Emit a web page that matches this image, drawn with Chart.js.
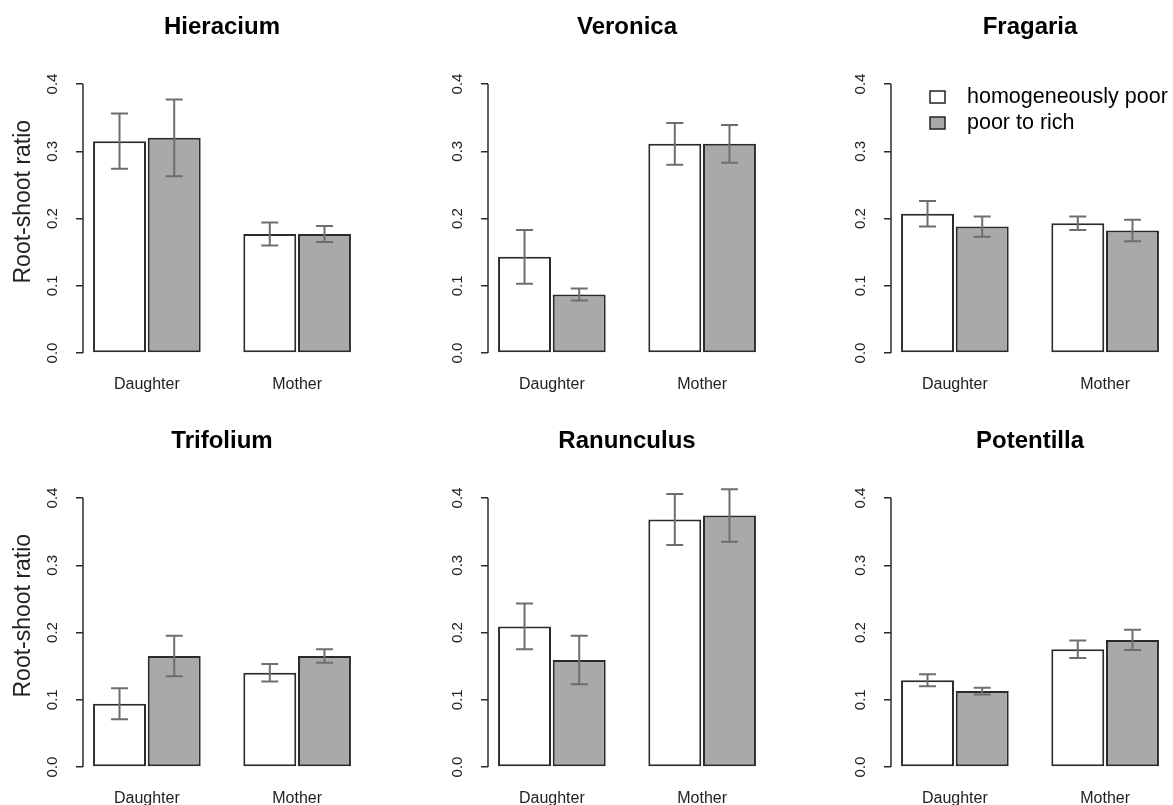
<!DOCTYPE html>
<html>
<head>
<meta charset="utf-8">
<script src="https://cdn.jsdelivr.net/npm/chart.js@4.4.0/dist/chart.umd.min.js"></script>
<style>
  html, body { margin: 0; padding: 0; background: #fff; overflow: hidden; }
  #wrap { position: relative; width: 1173px; height: 805px; overflow: hidden; }
  .panel { position: absolute; width: 444px; height: 393px; }
</style>
</head>
<body>
<div id="wrap"></div>
<script>
// data (root-shoot ratio, mean and standard error)
const species = ['Hieracium', 'Veronica', 'Fragaria', 'Trifolium', 'Ranunculus', 'Potentilla'];
const categories = ['Daughter', 'Mother'];
const treatments = ['homogeneously poor', 'poor to rich'];
const yTicks = [0, 0.1, 0.2, 0.3, 0.4];

// one [Daughter, Mother] pair per species
const meanPoor = [[0.315, 0.177], [0.143, 0.311], [0.207, 0.193], [0.094, 0.140], [0.209, 0.368], [0.129, 0.175]];
const meanRich = [[0.320, 0.177], [0.087, 0.311], [0.188, 0.182], [0.165, 0.165], [0.159, 0.374], [0.113, 0.189]];
const sePoor   = [[0.041, 0.017], [0.040, 0.031], [0.019, 0.010], [0.023, 0.013], [0.034, 0.038], [0.009, 0.013]];
const seRich   = [[0.057, 0.012], [0.009, 0.028], [0.015, 0.016], [0.030, 0.010], [0.036, 0.039], [0.005, 0.015]];

const FONT = '"Liberation Sans", Arial, sans-serif';
const fills = ['#ffffff', '#a9a9a9'];
const panelLeft = [0, 405, 808];
const panelTop = [0, 414];

const errorBars = {
  id: 'errorBars',
  afterDatasetsDraw(chart) {
    const ctx = chart.ctx, y = chart.scales.y;
    ctx.save();
    ctx.strokeStyle = '#6e6e6e';
    ctx.lineWidth = 2;
    chart.data.datasets.forEach((ds, i) => {
      chart.getDatasetMeta(i).data.forEach((bar, j) => {
        const m = ds.data[j].y, e = ds.se[j];
        const t = y.getPixelForValue(m + e), b = y.getPixelForValue(m - e);
        ctx.beginPath();
        ctx.moveTo(bar.x, t); ctx.lineTo(bar.x, b);
        ctx.moveTo(bar.x - 8.5, t); ctx.lineTo(bar.x + 8.5, t);
        ctx.moveTo(bar.x - 8.5, b); ctx.lineTo(bar.x + 8.5, b);
        ctx.stroke();
      });
    });
    ctx.restore();
  }
};

// R style axis: line only spans the labelled ticks
const axisLine = {
  id: 'axisLine',
  beforeDatasetsDraw(chart) {
    const ctx = chart.ctx, y = chart.scales.y, x = chart.chartArea.left;
    ctx.save();
    ctx.strokeStyle = '#2b2b2b';
    ctx.lineWidth = 1.5;
    ctx.beginPath();
    ctx.moveTo(x, y.getPixelForValue(yTicks[0]));
    ctx.lineTo(x, y.getPixelForValue(yTicks[yTicks.length - 1]));
    ctx.stroke();
    ctx.restore();
  }
};

const boxLegend = {
  id: 'boxLegend',
  afterDraw(chart) {
    const ctx = chart.ctx, left = chart.chartArea.left;
    const top = chart.scales.y.getPixelForValue(yTicks[yTicks.length - 1]);
    ctx.save();
    ctx.font = '21.5px ' + FONT;
    ctx.textBaseline = 'middle';
    chart.data.datasets.forEach((ds, i) => {
      const cy = top + 13 + i * 26;
      ctx.fillStyle = ds.backgroundColor;
      ctx.fillRect(left + 39, cy - 6, 15, 12);
      ctx.strokeStyle = '#222';
      ctx.lineWidth = 1.5;
      ctx.strokeRect(left + 39, cy - 6, 15, 12);
      ctx.fillStyle = '#000';
      ctx.fillText(ds.label, left + 76, cy);
    });
    ctx.restore();
  }
};

function makePanel(k) {
  const div = document.createElement('div');
  div.className = 'panel';
  div.style.left = panelLeft[k % 3] + 'px';
  div.style.top = panelTop[Math.floor(k / 3)] + 'px';
  const cv = document.createElement('canvas');
  cv.width = 444; cv.height = 393;
  div.appendChild(cv);
  document.getElementById('wrap').appendChild(div);

  const means = [meanPoor[k], meanRich[k]];
  const ses = [sePoor[k], seRich[k]];
  const datasets = treatments.map((t, i) => ({
    label: t,
    data: categories.map((c, j) => ({ x: j + 1, y: means[i][j] })),
    se: ses[i],
    backgroundColor: fills[i],
    borderColor: '#2b2b2b',
    borderWidth: 2,
    borderSkipped: false,
    categoryPercentage: 0.728,
    barPercentage: 0.968
  }));

  const plugins = [axisLine, errorBars];
  if (k === 2) plugins.push(boxLegend);

  new Chart(cv, {
    type: 'bar',
    data: { datasets },
    plugins,
    options: {
      responsive: false,
      animation: false,
      events: [],
      layout: { padding: 0 },
      plugins: {
        legend: { display: false },
        tooltip: { enabled: false },
        title: {
          display: true,
          text: species[k],
          color: '#000',
          font: { family: FONT, size: 24, weight: 'bold' },
          padding: { top: 13, bottom: 8.6 }
        }
      },
      scales: {
        x: {
          type: 'linear',
          offset: false,
          min: 0.575,
          max: 2.425,
          afterBuildTicks: s => { s.ticks = categories.map((c, j) => ({ value: j + 1 })); },
          afterFit: s => { s.height = 40; },
          grid: { display: false, drawTicks: false },
          border: { display: false },
          ticks: {
            autoSkip: false,
            maxRotation: 0,
            padding: 22,
            color: '#222',
            font: { family: FONT, size: 16 },
            callback: (v, i) => categories[i]
          }
        },
        y: {
          min: 0,
          max: 0.45,
          afterBuildTicks: s => { s.ticks = yTicks.map(v => ({ value: v })); },
          afterFit: s => { s.width = 83; },
          border: { display: false },
          grid: { display: true, drawOnChartArea: false, drawTicks: true, tickLength: 7, color: '#2b2b2b', lineWidth: 1.5 },
          ticks: {
            minRotation: 90,
            maxRotation: 90,
            crossAlign: 'center',
            padding: 12.5,
            color: '#222',
            font: { family: FONT, size: 15 },
            callback: v => v.toFixed(1)
          },
          title: {
            display: k % 3 === 0,
            text: 'Root-shoot ratio',
            color: '#222',
            font: { family: FONT, size: 23 },
            padding: { top: 10, bottom: 0 }
          }
        },
        // empty right-hand margin so the title centres over the plot region
        yRight: {
          position: 'right',
          display: true,
          afterFit: s => { s.width = 83; },
          grid: { display: false, drawTicks: false },
          border: { display: false },
          ticks: { display: false }
        }
      }
    }
  });
}

species.forEach((s, k) => makePanel(k));
</script>
</body>
</html>
